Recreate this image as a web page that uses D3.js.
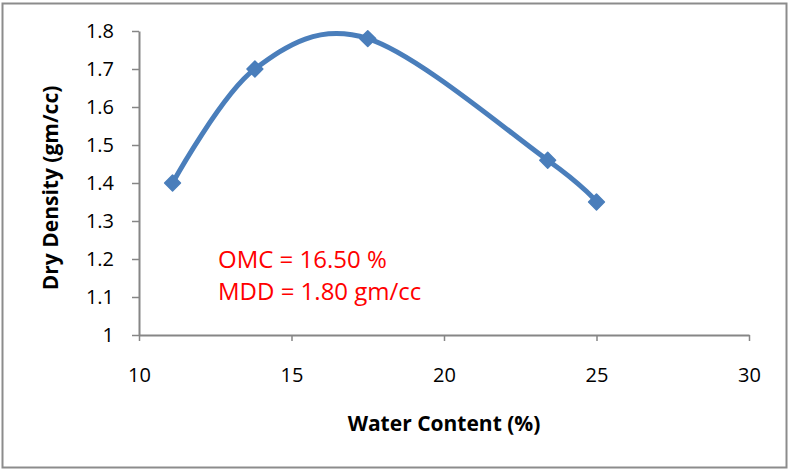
<!DOCTYPE html>
<html>
<head>
<meta charset="utf-8">
<script src="https://cdn.jsdelivr.net/npm/d3@7"></script>
<style>
  html, body { margin: 0; padding: 0; background: #fff; }
  svg text { font-family: "Open Sans", "Noto Sans", sans-serif; }
</style>
</head>
<body>
<svg id="chart" width="789" height="470"></svg>
<script>
// Compaction test results
const waterContent = [11.1, 13.8, 17.5, 23.4, 25.0];
const dryDensity   = [1.40, 1.70, 1.78, 1.46, 1.35];
const xTicks = [10, 15, 20, 25, 30];
const yTicks = [1, 1.1, 1.2, 1.3, 1.4, 1.5, 1.6, 1.7, 1.8];
const notes = ["OMC = 16.50 %", "MDD = 1.80 gm/cc"];
const xTitle = "Water Content (%)";
const yTitle = "Dry Density (gm/cc)";

const svg = d3.select("#chart");
const W = 789, H = 470;
const margin = { left: 139, right: 40, top: 31, bottom: 135 };

// outer frame
svg.append("rect")
  .attr("x", 2.5).attr("y", 3.5)
  .attr("width", 784).attr("height", 464)
  .attr("fill", "#fff")
  .attr("stroke", "#8c8c8c")
  .attr("stroke-width", 2);

const x = d3.scaleLinear().domain([10, 30]).range([margin.left, W - margin.right]);
const y = d3.scaleLinear().domain([1, 1.8]).range([H - margin.bottom, margin.top]);

const axisColor = "#868686";

const xAxis = svg.append("g")
  .attr("transform", `translate(0,${y(1)})`)
  .call(d3.axisBottom(x).tickValues(xTicks).tickSize(6).tickSizeOuter(0).tickFormat(d3.format("d")));
xAxis.selectAll(".tick text").attr("y", 47).attr("dy", 0);

const yAxis = svg.append("g")
  .attr("transform", `translate(${x(10)},0)`)
  .call(d3.axisLeft(y).tickValues(yTicks).tickSize(7).tickSizeOuter(0).tickPadding(18).tickFormat(d => d === 1 ? "1" : d3.format(".1f")(d)));

[xAxis, yAxis].forEach(g => {
  g.select(".domain").attr("stroke", axisColor).attr("stroke-width", 2);
  g.selectAll(".tick line").attr("stroke", axisColor).attr("stroke-width", 1.5);
  g.selectAll(".tick text").attr("fill", "#000").style("font-size", "20px");
});

// smoothed curve through the measured points
const pts = waterContent.map((w, i) => [w, dryDensity[i]]);
const line = d3.line()
  .x(d => x(d[0]))
  .y(d => y(d[1]))
  .curve(d3.curveCardinal.tension(0));

const blue = "#4a7ebb";
svg.append("path")
  .datum(pts)
  .attr("d", line)
  .attr("fill", "none")
  .attr("stroke", blue)
  .attr("stroke-width", 5)
  .attr("stroke-linecap", "round");

svg.append("g").selectAll("path")
  .data(pts)
  .join("path")
  .attr("transform", d => `translate(${x(d[0])},${y(d[1])})`)
  .attr("d", d3.symbol(d3.symbolDiamond2, 160)())
  .attr("fill", blue)
  .attr("stroke", blue)
  .attr("stroke-width", 1.5)
  .attr("stroke-linejoin", "round");

// annotations
svg.append("g").selectAll("text")
  .data(notes)
  .join("text")
  .attr("x", 218)
  .attr("y", (d, i) => 268 + i * 32)
  .attr("fill", "#ff0000")
  .style("font-size", "24px")
  .text(d => d);

// axis titles
svg.append("text")
  .attr("x", x(20))
  .attr("y", 431)
  .attr("text-anchor", "middle")
  .style("font-size", "21px")
  .style("font-weight", "bold")
  .text(xTitle);

svg.append("text")
  .attr("transform", `translate(58,188) rotate(-90)`)
  .attr("text-anchor", "middle")
  .style("font-size", "21px")
  .style("font-weight", "bold")
  .text(yTitle);
</script>
</body>
</html>
